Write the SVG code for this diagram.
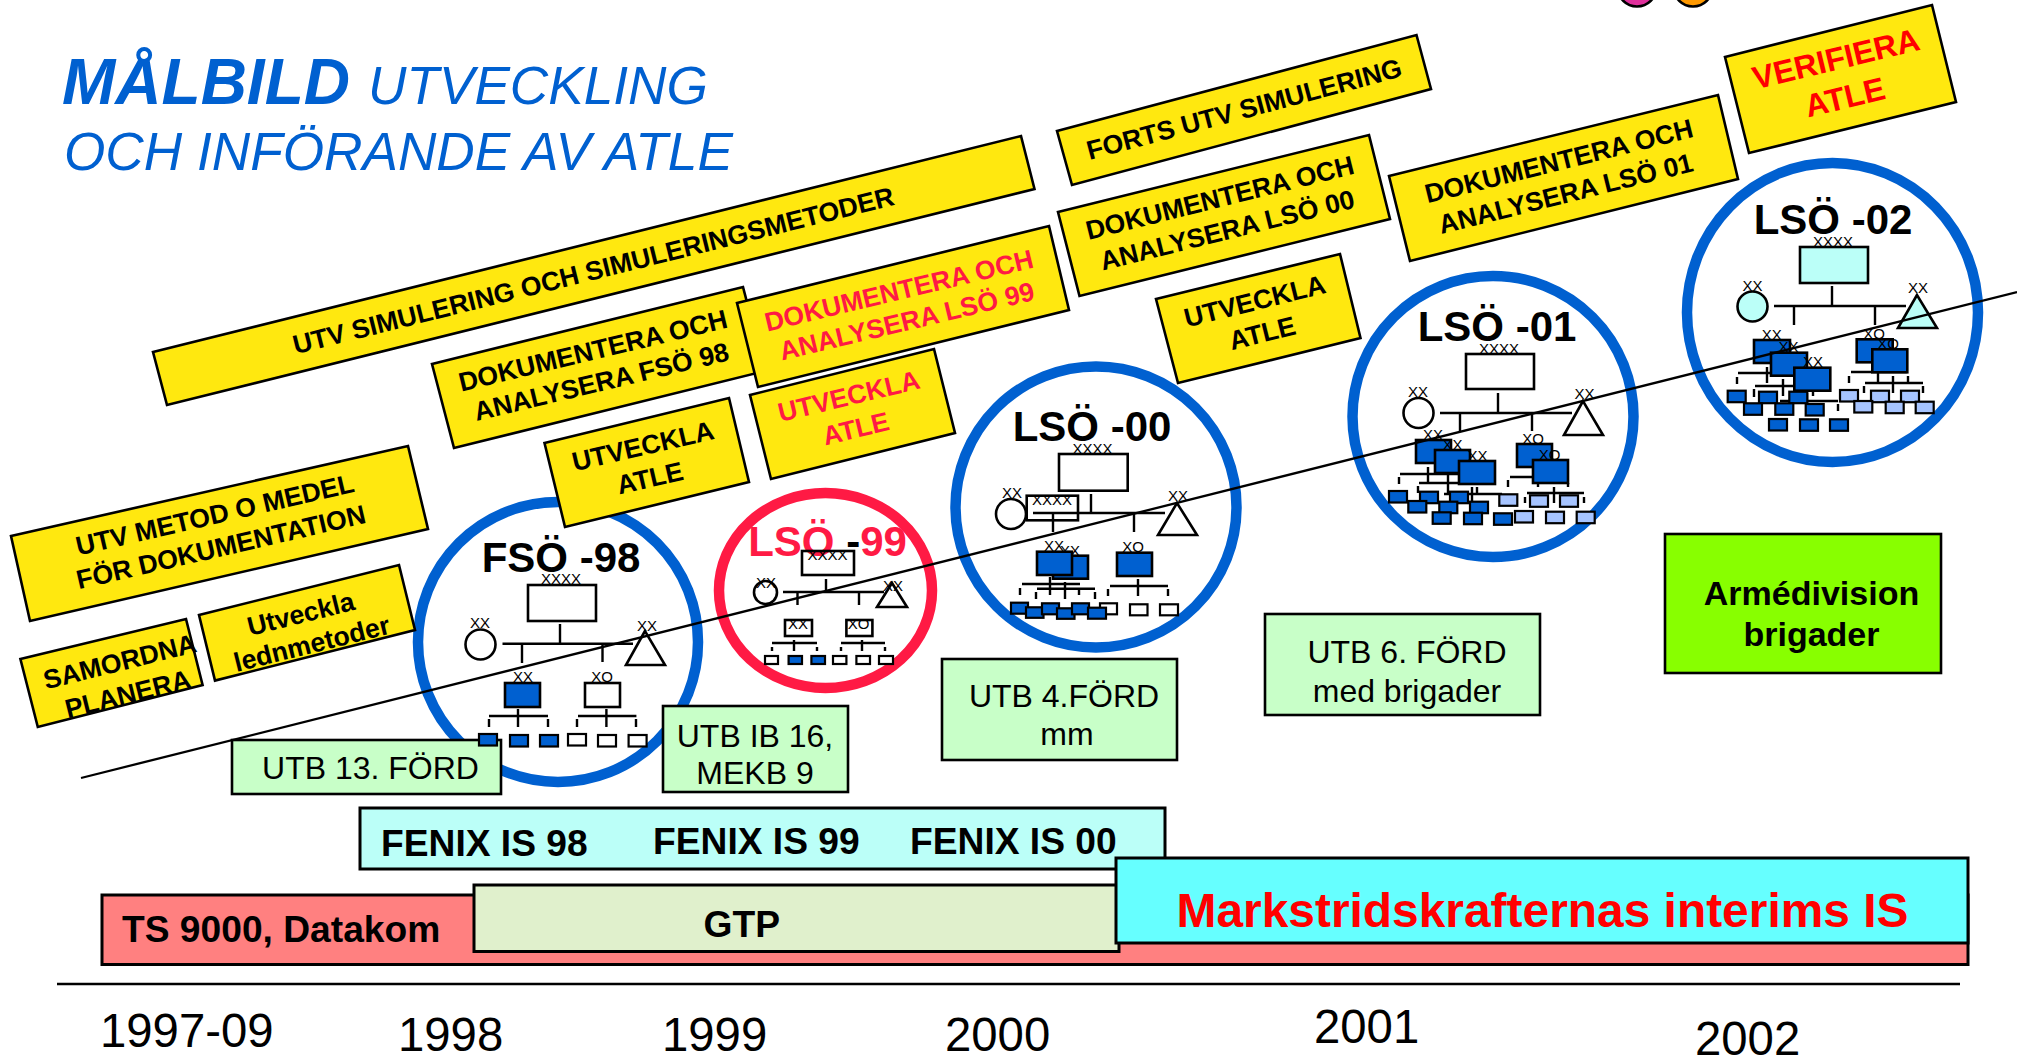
<svg xmlns="http://www.w3.org/2000/svg" width="2017" height="1058" viewBox="0 0 2017 1058">
<style>
text{font-family:"Liberation Sans",Arial,sans-serif;fill:#000}
.y{fill:#ffe80f;stroke:#000;stroke-width:2.6}
.yt{font-weight:bold;font-size:26.6px;text-anchor:middle}
.red{fill:#ff1a44}
.ring{fill:none;stroke:#0060d0;stroke-width:10.5}
.g{fill:#c8ffc8;stroke:#000;stroke-width:2.6}
.gt{font-size:32px;text-anchor:middle}
.bar{stroke:#000;stroke-width:3}
.bt{font-weight:bold;font-size:37.2px}
.yr{font-size:47.3px}
.x{font-size:15px;text-anchor:middle}
.h{font-weight:bold;font-size:42px;text-anchor:middle}
.o{fill:#fff;stroke:#000;stroke-width:2.6}
.c{fill:#bbfff8;stroke:#000;stroke-width:2.6}
.bl{fill:#0060d0;stroke:#000;stroke-width:2.6}
.s{fill:#fff;stroke:#000;stroke-width:2.2}
.sb{fill:#0060d0;stroke:#000;stroke-width:2.2}
.sl{fill:#a6c4ff;stroke:#000;stroke-width:2.2}
.ln{fill:none;stroke:#000;stroke-width:2.4}
.t1{fill:#0060d0;font-size:64px;font-weight:bold;font-style:italic}
.t2{fill:#0060d0;font-size:53.2px;font-style:italic}
</style>
<defs>
<rect id="sw" width="18" height="11.5"/>
</defs>

<g id="dots">
<circle cx="1637" cy="-13" r="19.5" fill="#e0309c" stroke="#000" stroke-width="2.6"/>
<circle cx="1693" cy="-13" r="19.5" fill="#ff9900" stroke="#000" stroke-width="2.6"/>
</g>

<g id="title">
<text x="62" y="104"><tspan class="t1">MÅLBILD</tspan><tspan class="t2" x="368">UTVECKLING</tspan></text>
<text class="t2" x="64" y="170">OCH INFÖRANDE AV ATLE</text>
</g>

<g id="rings">
<circle class="ring" cx="558" cy="642" r="140"/>
<ellipse cx="825.5" cy="590.5" rx="106.5" ry="97.5" fill="none" stroke="#ff1a44" stroke-width="10.5"/>
<circle class="ring" cx="1096" cy="507" r="140.5"/>
<circle class="ring" cx="1493" cy="416.5" r="140.5"/>
<ellipse class="ring" cx="1832.5" cy="312.5" rx="145.5" ry="149.5"/>
</g>

<g id="bar-ts9000">
<rect class="bar" x="102" y="895" width="1866" height="69.5" fill="#ff8080"/>
<text class="bt" x="122" y="942">TS 9000, Datakom</text>
</g>
<g id="bar-fenix">
<rect class="bar" x="360" y="808" width="805" height="61" fill="#bbfff8"/>
<text class="bt" x="381" y="856">FENIX IS 98</text>
<text class="bt" x="653" y="854">FENIX IS 99</text>
<text class="bt" x="910" y="854">FENIX IS 00</text>
</g>
<g id="bar-gtp">
<rect class="bar" x="474" y="885" width="645" height="66.5" fill="#e0f0cc"/>
<text class="bt" x="703.5" y="937">GTP</text>
</g>
<g id="bar-interim">
<rect class="bar" x="1116" y="858" width="852" height="85" fill="#66ffff"/>
<text x="1176.5" y="927" font-size="47.9" font-weight="bold" style="fill:#f00">Markstridskrafternas interims IS</text>
</g>

<g id="y-utv-metod">
<polygon class="y" points="11,536 408,446 428,529 30,621"/>
<text class="yt" x="217" y="523.6" transform="rotate(-13 217 523.6)">UTV METOD O MEDEL</text>
<text class="yt" x="223" y="556" transform="rotate(-13 223 556)">FÖR DOKUMENTATION</text>
</g>
<g id="y-samordna">
<polygon class="y" points="20.4,659 186,619 202.6,685 37.8,727"/>
<text class="yt" x="122" y="670.5" transform="rotate(-14 122 670.5)">SAMORDNA</text>
<text class="yt" x="130" y="703" transform="rotate(-14 130 703)">PLANERA</text>
</g>
<g id="y-ledn">
<polygon class="y" points="199,615 399,565 415,630 215,680.6"/>
<text class="yt" x="303" y="622.7" transform="rotate(-14 303 622.7)">Utveckla</text>
<text class="yt" x="314" y="652.6" transform="rotate(-14 314 652.6)">lednmetoder</text>
</g>
<g id="y-utv-sim">
<polygon class="y" points="153,352 1021,136 1034.5,189 167,405"/>
<text class="yt" x="595.5" y="279.5" transform="rotate(-14 595.5 279.5)">UTV SIMULERING OCH SIMULERINGSMETODER</text>
</g>
<g id="y-dok-fso">
<polygon class="y" points="432,364 743,287 765,371 454,448"/>
<text class="yt" x="595" y="359.5" transform="rotate(-13.5 595 359.5)">DOKUMENTERA OCH</text>
<text class="yt" x="603.5" y="390.5" transform="rotate(-13.5 603.5 390.5)">ANALYSERA FSÖ 98</text>
</g>
<g id="y-dok-lso99">
<polygon class="y" points="737,303 1049,226 1069,310 758,387"/>
<text class="yt red" x="901" y="299.5" transform="rotate(-13.5 901 299.5)">DOKUMENTERA OCH</text>
<text class="yt red" x="909" y="330" transform="rotate(-13.5 909 330)">ANALYSERA LSÖ 99</text>
</g>
<g id="y-atle-1">
<polygon class="y" points="544.5,443 729,398 749,482 565,527"/>
<text class="yt" x="645" y="455" transform="rotate(-13 645 455)">UTVECKLA</text>
<text class="yt" x="652" y="487" transform="rotate(-13 652 487)">ATLE</text>
</g>
<g id="y-atle-2">
<polygon class="y" points="750,395 934,349 955,433 771,479"/>
<text class="yt red" x="851" y="405" transform="rotate(-13.5 851 405)">UTVECKLA</text>
<text class="yt red" x="858" y="437.5" transform="rotate(-13.5 858 437.5)">ATLE</text>
</g>
<g id="y-forts">
<polygon class="y" points="1057,131 1416.5,35 1431,89 1072,185"/>
<text class="yt" x="1246.5" y="118" transform="rotate(-15 1246.5 118)">FORTS UTV SIMULERING</text>
</g>
<g id="y-dok-lso00">
<polygon class="y" points="1058,212 1369,135 1390,219 1079.5,296"/>
<text class="yt" x="1222" y="206.7" transform="rotate(-14 1222 206.7)">DOKUMENTERA OCH</text>
<text class="yt" x="1229.5" y="239" transform="rotate(-14 1229.5 239)">ANALYSERA LSÖ 00</text>
</g>
<g id="y-atle-3">
<polygon class="y" points="1156,299 1340,254 1360.5,338 1178,383"/>
<text class="yt" x="1257" y="310" transform="rotate(-14 1257 310)">UTVECKLA</text>
<text class="yt" x="1264.5" y="342" transform="rotate(-14 1264.5 342)">ATLE</text>
</g>
<g id="y-dok-lso01">
<polygon class="y" points="1389,176 1718,95 1738,179 1410,261"/>
<text class="yt" x="1561" y="170" transform="rotate(-14 1561 170)">DOKUMENTERA OCH</text>
<text class="yt" x="1568" y="202.5" transform="rotate(-14 1568 202.5)">ANALYSERA LSÖ 01</text>
</g>
<g id="y-verifiera">
<polygon class="y" points="1725,57 1932,5 1956,102 1749,153"/>
<text class="yt" style="font-size:32px;fill:#f00" x="1838.5" y="69.5" transform="rotate(-13.5 1838.5 69.5)">VERIFIERA</text>
<text class="yt" style="font-size:32px;fill:#f00" x="1847.5" y="108" transform="rotate(-13.5 1847.5 108)">ATLE</text>
</g>

<g id="g-utb13">
<rect class="g" x="232" y="740" width="269" height="54"/>
<text class="gt" x="370.5" y="779">UTB 13. FÖRD</text>
</g>
<g id="g-utb16">
<rect class="g" x="663" y="706" width="185" height="86"/>
<text class="gt" x="755" y="746.5">UTB IB 16,</text>
<text class="gt" x="755" y="784">MEKB 9</text>
</g>
<g id="g-utb4">
<rect class="g" x="942" y="659" width="235" height="101"/>
<text class="gt" x="1064" y="707">UTB 4.FÖRD</text>
<text class="gt" x="1067" y="745">mm</text>
</g>
<g id="g-utb6">
<rect class="g" x="1265" y="614" width="275" height="101"/>
<text class="gt" x="1407" y="662.5">UTB 6. FÖRD</text>
<text class="gt" x="1407" y="701.5">med brigader</text>
</g>
<g id="g-arme">
<rect x="1665" y="534" width="276" height="139" fill="#88ff00" stroke="#000" stroke-width="2.6"/>
<text class="gt" x="1811.5" y="605" font-weight="bold" style="font-size:34px">Armédivision</text>
<text class="gt" x="1811.5" y="646" font-weight="bold" style="font-size:34px">brigader</text>
</g>

<g id="org-fso98">
<text class="h" x="561" y="571.5">FSÖ -98</text>
<text class="x" x="561" y="584">XXXX</text>
<rect class="o" x="528" y="585" width="68" height="36"/>
<text class="x" x="480" y="628">XX</text>
<circle class="o" cx="480.5" cy="644.5" r="15"/>
<text class="x" x="647" y="631">XX</text>
<polygon class="o" points="645,631 626,665 665,665"/>
<path class="ln" d="M560 624V643.7M502.5 643.7H633M522 643.7V663M602.5 643.7V662M489 716H548M518 709V727M489 719V727M548 719V727M578 716H636.4M606.4 709V727M577 719V727M636 719V727"/>
<text class="x" x="523" y="682">XX</text>
<rect class="bl" x="505" y="683" width="35" height="24"/>
<text class="x" x="602" y="682">XO</text>
<rect class="o" x="585" y="683" width="35" height="24"/>
<rect class="sb" x="479" y="734" width="18" height="11.5"/>
<rect class="sb" x="510" y="735" width="18" height="11.5"/>
<rect class="sb" x="540" y="735" width="18" height="11.5"/>
<rect class="s" x="568" y="734" width="18" height="11.5"/>
<rect class="s" x="598" y="735" width="18" height="11.5"/>
<rect class="s" x="628.6" y="735" width="18" height="11.5"/>
</g>

<g id="org-lso99">
<text class="h red" x="827.5" y="556">LSÖ <tspan style="fill:#000">-</tspan>99</text>
<text class="x" x="827.5" y="560">XXXX</text>
<rect class="o" x="802" y="551" width="52" height="24" style="fill:none"/>
<text class="x" x="766" y="588">XX</text>
<circle class="o" cx="765.5" cy="592.5" r="11.5" style="fill:none"/>
<text class="x" x="893" y="591">XX</text>
<polygon class="o" points="892,583 877,607 907,607" style="fill:none"/>
<path class="ln" d="M826 579V592M783 592H884M797.5 592V605M859 592V605M772 643H817M794 640V651M772 647V651M817 647V651M841 643H885M862 640V651M841 647V651M885 647V651"/>
<text class="x" x="798" y="629">XX</text>
<rect class="o" x="785" y="620" width="27" height="16" style="fill:none"/>
<text class="x" x="858.5" y="629">XO</text>
<rect class="o" x="846.4" y="620" width="26" height="16" style="fill:none"/>
<rect class="s" x="765" y="656" width="13" height="8"/>
<rect class="sb" x="788.6" y="656" width="13.4" height="8"/>
<rect class="sb" x="811.4" y="656" width="13.6" height="8"/>
<rect class="s" x="833" y="656" width="13.4" height="8"/>
<rect class="s" x="856.4" y="656" width="13.6" height="8"/>
<rect class="s" x="879" y="656" width="14" height="8"/>
</g>

<g id="org-lso00">
<text class="h" x="1092" y="441">LSÖ -00</text>
<text class="x" x="1092.5" y="454">XXXX</text>
<rect class="o" x="1059" y="454" width="68.7" height="36.7"/>
<text class="x" x="1012" y="498">XX</text>
<circle class="o" cx="1011" cy="514" r="15"/>
<rect class="o" x="1026.7" y="495.7" width="51.3" height="24.6" style="fill:none"/>
<text class="x" x="1052" y="505">XXXX</text>
<text class="x" x="1178" y="501">XX</text>
<polygon class="o" points="1177,503 1158,535 1197,535"/>
<path class="ln" d="M1091 494V513M1033 513H1165M1053 513V532M1134 513V532M1022 584H1080M1050 577V595M1020 588V595M1037 588.7H1095M1065 582V599M1036 592V599M1095 592V599M1079 588V595M1110 586H1168M1138 579V596M1108 589V596M1168 589V596"/>
<text class="x" x="1070" y="555.7">XX</text>
<rect class="bl" x="1053" y="555.7" width="35" height="23"/>
<text class="x" x="1054" y="551">XX</text>
<rect class="bl" x="1037" y="551.7" width="35" height="23.3"/>
<text class="x" x="1133" y="552">XO</text>
<rect class="bl" x="1117" y="552.7" width="35" height="23.3"/>
<rect class="s" x="1100" y="603.3" width="17" height="11"/>
<rect class="s" x="1130" y="604.3" width="17.5" height="11"/>
<rect class="s" x="1160" y="604.3" width="18" height="11"/>
<rect class="sb" x="1011" y="602.7" width="17" height="11"/>
<rect class="sb" x="1026" y="607.3" width="17.5" height="10.5"/>
<rect class="sb" x="1042" y="603.3" width="17" height="11"/>
<rect class="sb" x="1057" y="608.3" width="17.5" height="10.5"/>
<rect class="sb" x="1072" y="603.3" width="17" height="11"/>
<rect class="sb" x="1088" y="607.7" width="18" height="11"/>
</g>

<g id="org-lso01">
<text class="h" x="1497" y="341">LSÖ -01</text>
<text class="x" x="1499" y="354">XXXX</text>
<rect class="o" x="1466" y="354" width="68" height="35"/>
<text class="x" x="1418" y="397">XX</text>
<circle class="o" cx="1418.5" cy="413" r="15"/>
<text class="x" x="1584.5" y="399">XX</text>
<polygon class="o" points="1583,401 1564,435 1603,435"/>
<path class="ln" d="M1498 393V413M1440 413H1572M1460 413V431M1532 413V431"/>
<path class="ln" d="M1400 474H1458M1428 467V482M1399 477V484M1419 483H1478M1448 475V494M1418 486V493M1444 494H1502M1472 487V505M1477 487V493M1510 477H1533M1508 480V487M1527 493H1584M1554 487V503M1538 483V487M1568 483V487M1525 497V503M1584 497V503"/>
<text class="x" x="1433" y="440">XX</text>
<rect class="bl" x="1416" y="440" width="35" height="23"/>
<text class="x" x="1452.5" y="450">XX</text>
<rect class="bl" x="1435" y="450" width="35" height="23"/>
<text class="x" x="1477.5" y="461">XX</text>
<rect class="bl" x="1459" y="461" width="36" height="23"/>
<text class="x" x="1533" y="444">XO</text>
<rect class="bl" x="1517" y="444" width="35" height="23"/>
<text class="x" x="1549.5" y="460">XO</text>
<rect class="bl" x="1533" y="460" width="35" height="23"/>
<use href="#sw" class="sb" x="1389" y="491"/><use href="#sw" class="sb" x="1420" y="491.7"/><use href="#sw" class="sb" x="1450" y="491.7"/>
<use href="#sw" class="sb" x="1408.3" y="501"/><use href="#sw" class="sb" x="1439.3" y="501.7"/><use href="#sw" class="sb" x="1470" y="501.7"/>
<use href="#sw" class="sb" x="1432.7" y="512.3"/><use href="#sw" class="sb" x="1464" y="512.7"/><use href="#sw" class="sb" x="1494" y="513.3"/>
<use href="#sw" class="sl" x="1499.3" y="494.3"/><use href="#sw" class="sl" x="1530" y="495.3"/><use href="#sw" class="sl" x="1560" y="495.3"/>
<use href="#sw" class="sl" x="1515" y="511"/><use href="#sw" class="sl" x="1546" y="511.7"/><use href="#sw" class="sl" x="1576.7" y="511.7"/>
</g>

<g id="org-lso02">
<text class="h" x="1833" y="234">LSÖ -02</text>
<text class="x" x="1833" y="247">XXXX</text>
<rect class="c" x="1800" y="247" width="68" height="36"/>
<text class="x" x="1752.5" y="291">XX</text>
<circle class="c" cx="1752.5" cy="306.5" r="15"/>
<text class="x" x="1918" y="293">XX</text>
<polygon class="c" points="1917,295 1898,328 1937,328"/>
<path class="ln" d="M1832 286V306M1774 306H1906M1794 306V325M1875 306V325"/>
<path class="ln" d="M1738 373H1770M1767 367V383M1737 377V384M1755 386H1813M1783 379V396M1754 389V397M1780 401H1838M1807 393V412M1813 391V396M1838 404V411M1851 372H1907M1849 376V383M1878 373V383M1908 376V383M1865 383H1923M1893 376V393M1864 386V393M1923 386V393"/>
<text class="x" x="1771.7" y="340">XX</text>
<rect class="bl" x="1754" y="340" width="36" height="23"/>
<text class="x" x="1788.5" y="352">XX</text>
<rect class="bl" x="1771" y="352.7" width="36" height="23"/>
<text class="x" x="1813" y="367">XX</text>
<rect class="bl" x="1794.3" y="367.7" width="36" height="23"/>
<text class="x" x="1874" y="339">XO</text>
<rect class="bl" x="1856.7" y="339.3" width="36" height="23"/>
<text class="x" x="1888" y="349">XO</text>
<rect class="bl" x="1872.3" y="349.3" width="35" height="23"/>
<use href="#sw" class="sb" x="1727.7" y="390.7"/><use href="#sw" class="sb" x="1759" y="391.7"/><use href="#sw" class="sb" x="1789.3" y="391.7"/>
<use href="#sw" class="sb" x="1744" y="403.3"/><use href="#sw" class="sb" x="1775.3" y="403.3"/><use href="#sw" class="sb" x="1805.7" y="404"/>
<use href="#sw" class="sb" x="1769" y="419"/><use href="#sw" class="sb" x="1800" y="419.3"/><use href="#sw" class="sb" x="1830" y="419.3"/>
<use href="#sw" class="sl" x="1840" y="390"/><use href="#sw" class="sl" x="1871" y="390.7"/><use href="#sw" class="sl" x="1901" y="390.7"/>
<use href="#sw" class="sl" x="1854.3" y="401"/><use href="#sw" class="sl" x="1885.7" y="401.7"/><use href="#sw" class="sl" x="1915.7" y="401.7"/>
</g>

<g id="years">
<text class="yr" x="100" y="1047">1997-09</text>
<text class="yr" x="398" y="1051">1998</text>
<text class="yr" x="662" y="1051">1999</text>
<text class="yr" x="945" y="1051">2000</text>
<text class="yr" x="1314" y="1043">2001</text>
<text class="yr" x="1695" y="1055">2002</text>
</g>

<g id="connectors">
<line x1="81" y1="778" x2="2017" y2="292" stroke="#000" stroke-width="2.3"/>
<line x1="57" y1="984" x2="1960" y2="984" stroke="#000" stroke-width="2.6"/>
</g>
</svg>
